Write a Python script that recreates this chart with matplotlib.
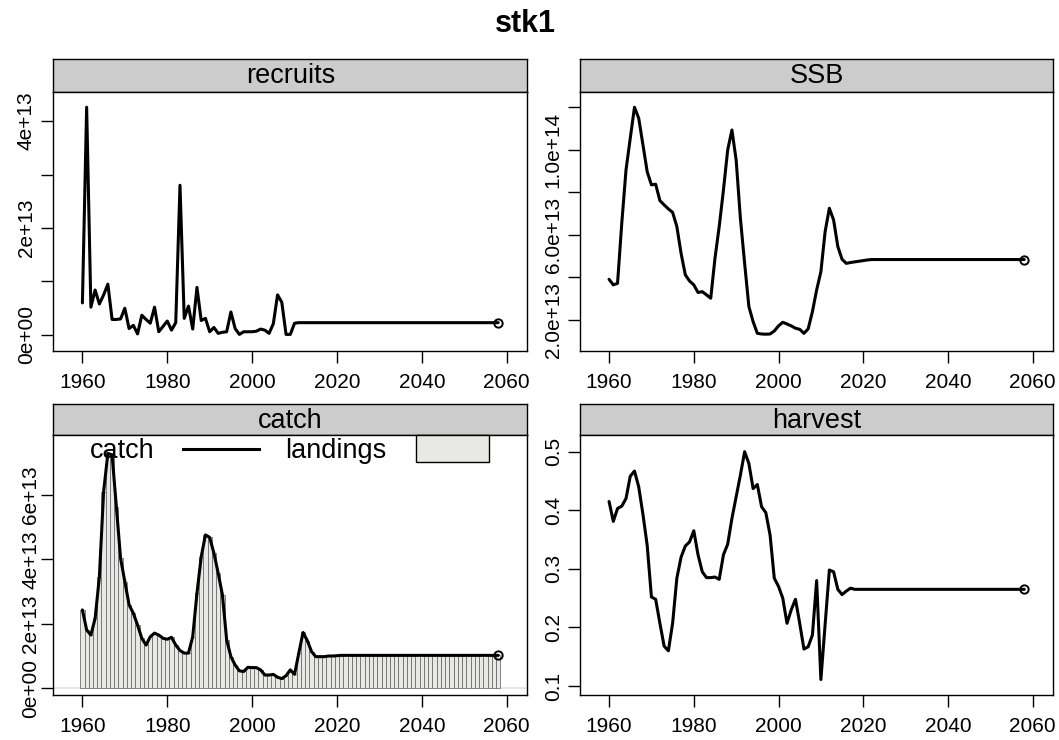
import numpy as np
import matplotlib
matplotlib.use("Agg")
import matplotlib.pyplot as plt
from matplotlib.patches import Rectangle
from matplotlib.lines import Line2D

plt.rcParams["font.family"] = ["Liberation Sans", "DejaVu Sans"]

W, H = 1059, 740

years = np.arange(1960, 2059)

# recruits, SSB and catch in units of 1e13
recruits = [
    0.60, 4.26, 0.52, 0.84, 0.58, 0.75, 0.95, 0.29, 0.29, 0.30,
    0.50, 0.12, 0.18, 0.02, 0.37, 0.29, 0.22, 0.52, 0.06, 0.16,
    0.26, 0.09, 0.23, 2.80, 0.31, 0.54, 0.11, 0.89, 0.27, 0.31,
    0.06, 0.14, 0.03, 0.05, 0.06, 0.43, 0.12, 0.01, 0.06, 0.06,
    0.06, 0.07, 0.11, 0.09, 0.03, 0.21, 0.75, 0.61, 0.01, 0.01,
    0.22, 0.23, 0.23, 0.23, 0.23, 0.23, 0.23, 0.23, 0.23, 0.23,
    0.23, 0.23, 0.23, 0.23, 0.23, 0.23, 0.23, 0.23, 0.23, 0.23,
    0.23, 0.23, 0.23, 0.23, 0.23, 0.23, 0.23, 0.23, 0.23, 0.23,
    0.23, 0.23, 0.23, 0.23, 0.23, 0.23, 0.23, 0.23, 0.23, 0.23,
    0.23, 0.23, 0.23, 0.23, 0.23, 0.23, 0.23, 0.23, 0.23,
]

ssb = [
    3.91, 3.65, 3.72, 6.55, 9.05, 10.54, 12.00, 11.48, 10.23, 8.97,
    8.35, 8.38, 7.61, 7.41, 7.22, 7.06, 6.39, 5.13, 4.12, 3.83,
    3.65, 3.29, 3.33, 3.18, 3.02, 4.90, 6.39, 8.11, 9.99, 10.93,
    9.52, 6.78, 4.66, 2.63, 1.92, 1.37, 1.34, 1.33, 1.34, 1.48,
    1.72, 1.89, 1.81, 1.72, 1.61, 1.56, 1.37, 1.58, 2.39, 3.41,
    4.27, 6.15, 7.25, 6.70, 5.45, 4.85, 4.66, 4.70, 4.73, 4.76,
    4.79, 4.82, 4.84, 4.84, 4.84, 4.84, 4.84, 4.84, 4.84, 4.84,
    4.84, 4.84, 4.84, 4.84, 4.84, 4.84, 4.84, 4.84, 4.84, 4.84,
    4.84, 4.84, 4.84, 4.84, 4.84, 4.84, 4.84, 4.84, 4.84, 4.84,
    4.84, 4.84, 4.84, 4.84, 4.84, 4.84, 4.84, 4.84, 4.84,
]

catch = [
    2.43, 1.81, 1.65, 2.17, 3.46, 6.10, 7.29, 7.24, 5.64, 4.03,
    3.31, 2.59, 2.33, 1.96, 1.55, 1.34, 1.60, 1.71, 1.65, 1.55,
    1.52, 1.58, 1.34, 1.17, 1.09, 1.09, 1.60, 2.95, 4.08, 4.76,
    4.68, 4.19, 3.57, 2.90, 1.50, 0.98, 0.72, 0.54, 0.52, 0.65,
    0.64, 0.64, 0.57, 0.41, 0.41, 0.43, 0.34, 0.30, 0.39, 0.57,
    0.43, 1.09, 1.73, 1.48, 1.14, 0.98, 0.98, 0.98, 1.00, 1.00,
    1.01, 1.02, 1.02, 1.02, 1.02, 1.02, 1.02, 1.02, 1.02, 1.02,
    1.02, 1.02, 1.02, 1.02, 1.02, 1.02, 1.02, 1.02, 1.02, 1.02,
    1.02, 1.02, 1.02, 1.02, 1.02, 1.02, 1.02, 1.02, 1.02, 1.02,
    1.02, 1.02, 1.02, 1.02, 1.02, 1.02, 1.02, 1.02, 1.02,
]

# landings sit on top of catch for this stock
landings = list(catch)

harvest = [
    0.415, 0.381, 0.403, 0.407, 0.420, 0.458, 0.467, 0.440, 0.393, 0.340,
    0.252, 0.248, 0.207, 0.168, 0.160, 0.207, 0.284, 0.320, 0.339, 0.346,
    0.365, 0.324, 0.295, 0.285, 0.285, 0.286, 0.282, 0.324, 0.342, 0.386,
    0.423, 0.460, 0.500, 0.480, 0.437, 0.444, 0.406, 0.396, 0.358, 0.284,
    0.270, 0.250, 0.207, 0.230, 0.248, 0.207, 0.163, 0.167, 0.187, 0.280,
    0.111, 0.205, 0.298, 0.295, 0.265, 0.256, 0.262, 0.267, 0.265, 0.265,
    0.265, 0.265, 0.265, 0.265, 0.265, 0.265, 0.265, 0.265, 0.265, 0.265,
    0.265, 0.265, 0.265, 0.265, 0.265, 0.265, 0.265, 0.265, 0.265, 0.265,
    0.265, 0.265, 0.265, 0.265, 0.265, 0.265, 0.265, 0.265, 0.265, 0.265,
    0.265, 0.265, 0.265, 0.265, 0.265, 0.265, 0.265, 0.265, 0.265,
]

x_ticks = [1960, 1980, 2000, 2020, 2040, 2060]
rec_ticks = [0, 1e13, 2e13, 3e13, 4e13]
rec_labels = ["0e+00", "", "2e+13", "", "4e+13"]
ssb_ticks = [2e13, 4e13, 6e13, 8e13, 1e14, 1.2e14]
ssb_labels = ["2.0e+13", "", "6.0e+13", "", "1.0e+14", ""]
catch_ticks = [0, 2e13, 4e13, 6e13]
catch_labels = ["0e+00", "2e+13", "4e+13", "6e+13"]
harv_ticks = [0.1, 0.2, 0.3, 0.4, 0.5]
harv_labels = ["0.1", "0.2", "0.3", "0.4", "0.5"]

TICK_FS = 15
TEXT_FS = 19.5

fig = plt.figure(figsize=(W / 100, H / 100), dpi=100)


def px_rect(left, top, right, bottom):
    return [left / W, 1 - bottom / H, (right - left) / W, (bottom - top) / H]


def panel(left, right, strip_top, top, bottom, name):
    strip = fig.add_axes(px_rect(left, strip_top, right, top))
    strip.set_facecolor("#cccccc")
    strip.set_xticks([])
    strip.set_yticks([])
    for s in strip.spines.values():
        s.set_linewidth(1)
    strip.text(0.5, 0.47, name, ha="center", va="center", fontsize=TEXT_FS,
               transform=strip.transAxes)

    ax = fig.add_axes(px_rect(left, top, right, bottom))
    for s in ax.spines.values():
        s.set_linewidth(1)
    ax.set_xlim(1953.14, 2064.86)
    ax.set_xticks(x_ticks)
    return ax


def finish_axes(ax, ticks, labels, ypad):
    ax.set_yticks(ticks, labels, rotation=90, va="center", fontsize=TICK_FS)
    ax.tick_params(direction="out", length=8.5, width=1, labelsize=TICK_FS)
    ax.tick_params(axis="x", pad=7)
    ax.tick_params(axis="y", pad=ypad)


def series(ax, vals):
    ax.plot(years, vals, color="black", lw=2.2,
            solid_joinstyle="round", solid_capstyle="round")
    ax.plot(years[-1], vals[-1], "o", mfc="none", mec="black", ms=6, mew=1.4)


# recruits
ax = panel(53.3, 527.3, 59.3, 91.7, 351, "recruits")
series(ax, np.array(recruits) * 1e13)
ax.set_ylim(-0.30e13, 4.55e13)
finish_axes(ax, rec_ticks, rec_labels, 4)

# SSB
ax = panel(580, 1053.3, 59.3, 91.7, 351, "SSB")
series(ax, np.array(ssb) * 1e13)
ax.set_ylim(0.54e13, 12.73e13)
finish_axes(ax, ssb_ticks, ssb_labels, 4)

# catch with landings bars underneath
ax = panel(53.3, 527.3, 404, 435.3, 695, "catch")
ax.axhline(0, color="#e3e3e3", lw=1.2, zorder=0)
ax.bar(years, np.array(landings) * 1e13, width=1, color="#e8e8e4",
       edgecolor="#666666", linewidth=0.55, zorder=1)
series(ax, np.array(catch) * 1e13)
ax.set_ylim(-0.21e13, 7.85e13)
finish_axes(ax, catch_ticks, catch_labels, 1)

# key along the top of the catch panel
fig.text(89.5 / W, 1 - 451 / H, "catch", ha="left", va="center", fontsize=TEXT_FS)
fig.add_artist(Line2D([182.6 / W, 258.6 / W], [1 - 449 / H, 1 - 449 / H],
                      color="black", lw=2.2))
fig.text(285.5 / W, 1 - 451 / H, "landings", ha="left", va="center", fontsize=TEXT_FS)
fig.add_artist(Rectangle((415.7 / W, 1 - 461.7 / H), 73.6 / W, 26.4 / H,
                         transform=fig.transFigure, facecolor="#e8e8e4",
                         edgecolor="black", lw=1))

# harvest
ax = panel(580, 1053.3, 404, 435.3, 695, "harvest")
series(ax, harvest)
ax.set_ylim(0.0846, 0.528)
finish_axes(ax, harv_ticks, harv_labels, 4)

fig.text(525 / W, 1 - 24 / H, "stk1", ha="center", va="center",
         fontsize=22, fontweight="bold")

fig.savefig("out.png", dpi=100)
